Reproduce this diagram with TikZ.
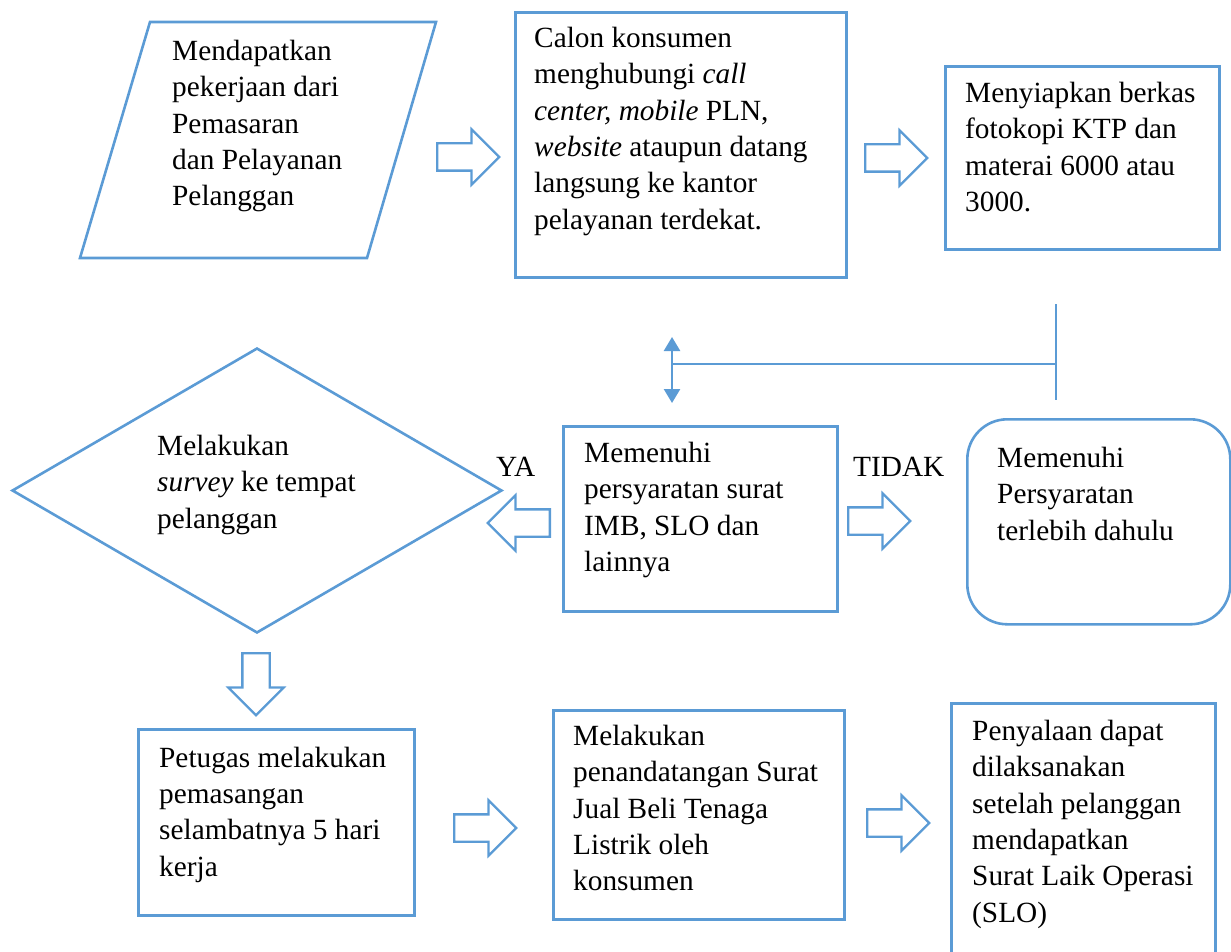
\documentclass[tikz,border=0pt]{standalone}
\usepackage{fontspec}
\setmainfont{Liberation Serif}
\usepackage{xcolor}
\usetikzlibrary{shapes.geometric,shapes.arrows,arrows.meta}
\definecolor{flowblue}{RGB}{91,155,213}

\begin{document}
\begin{tikzpicture}[x=1pt,y=-1pt,
    box/.style={draw=flowblue, line width=2.6pt, rectangle, anchor=north west, inner sep=0pt},
    txt/.style={anchor=north west, inner sep=0pt, align=left, font=\fontsize{29.3}{36.3}\selectfont},
    blockarr/.style={single arrow, draw=flowblue, line width=2.3pt, inner xsep=0pt, inner ysep=12.5pt,
        minimum height=62pt, minimum width=53pt, single arrow head extend=14pt,
        single arrow tip angle=90, anchor=tail},
    link/.style={draw=flowblue, line width=1.4pt}]

    \path[use as bounding box, clip] (0,0) rectangle (1231,952);

    % Top row
    \coordinate (kbl) at (80,258);
    \coordinate (ktl) at (150,22);
    \coordinate (ktr) at (436,22);
    \coordinate (kbr) at (367,258);
    \draw[flowblue, line width=2.6pt] (kbl) -- (ktl) -- (ktr) -- (kbr) -- cycle;
    \node[box, minimum width=331pt, minimum height=265pt] (calon) at (514,11) {};
    \node[box, minimum width=274pt, minimum height=183pt] (berkas) at (944,65) {};

    \node[txt] (tkerja) at (172,40) {Mendapatkan\\pekerjaan dari\\Pemasaran\\dan Pelayanan\\Pelanggan};
    \node[txt] (tcalon) at (534,27) {Calon konsumen\\menghubungi \textit{call}\\\textit{center, mobile} PLN,\\\textit{website} ataupun datang\\langsung ke kantor\\pelayanan terdekat.};
    \node[txt] (tberkas) at (965,82) {Menyiapkan berkas\\fotokopi KTP dan\\materai 6000 atau\\3000.};

    % Middle row
    \node[diamond, draw=flowblue, line width=2.6pt, minimum width=490pt, minimum height=285pt,
        inner sep=0pt] (survey) at (257,490.5) {};
    \node[box, minimum width=274pt, minimum height=185pt] (syarat) at (562,425) {};
    \node[box, rounded corners=40pt, minimum width=263pt, minimum height=205pt] (dahulu) at (966,418) {};

    \node[txt] (tsurvey) at (157,435) {Melakukan\\\textit{survey} ke tempat\\pelanggan};
    \node[txt] (tsyarat) at (584,442) {Memenuhi\\persyaratan surat\\IMB, SLO dan\\lainnya};
    \node[txt] (tdahulu) at (997,447) {Memenuhi\\Persyaratan\\terlebih dahulu};
    \node[txt] (ya) at (496,457) {YA};
    \node[txt] (tidak) at (853,457) {TIDAK};

    % Bottom row
    \node[box, minimum width=276pt, minimum height=186pt] (pasang) at (137,728) {};
    \node[box, minimum width=291pt, minimum height=209pt] (jual) at (552,709) {};
    \node[box, minimum width=264pt, minimum height=270pt] (slo) at (950,702) {};

    \node[txt] (tpasang) at (159,746.6) {Petugas melakukan\\pemasangan\\selambatnya 5 hari\\kerja};
    \node[txt] (tjual) at (573,725) {Melakukan\\penandatangan Surat\\Jual Beli Tenaga\\Listrik oleh\\konsumen};
    \node[txt] (tslo) at (972,720) {Penyalaan dapat\\dilaksanakan\\setelah pelanggan\\mendapatkan\\Surat Laik Operasi\\(SLO)};

    % Block arrows
    \node[blockarr] (a1) at (436,157) {};
    \node[blockarr] (a2) at (864,158) {};
    \node[blockarr, rotate=180] (a3) at (551,523) {};
    \node[blockarr] (a4) at (847,521) {};
    \node[blockarr, rotate=-90] (a5) at (256,652) {};
    \node[blockarr] (a6) at (453,828) {};
    \node[blockarr] (a7) at (866,823) {};

    % Return line
    \coordinate (dtop) at (672,337);
    \coordinate (dbot) at (672,403);
    \coordinate (dmid) at (672,364);
    \coordinate (vtop) at (1056,304);
    \coordinate (vbot) at (1056,400);
    \coordinate (vmid) at (1056,364);
    \draw[flowblue, line width=2.5pt, {Triangle[width=16pt,length=14pt]}-{Triangle[width=16pt,length=14pt]}] (dtop) -- (dbot);
    \draw[link] (vtop) -- (vbot);
    \draw[link] (dmid) -- (vmid);
\end{tikzpicture}
\end{document}
